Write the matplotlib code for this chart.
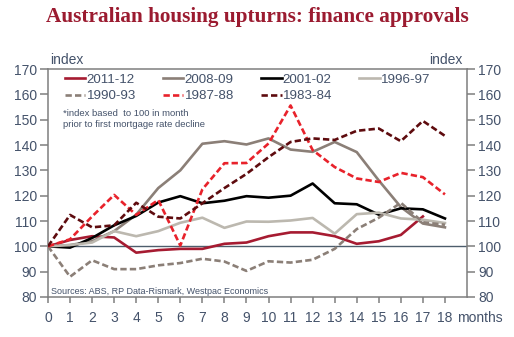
#!/usr/bin/env python3
"""Australian housing upturns: finance approvals (index chart)."""

import matplotlib

matplotlib.use("Agg")
import matplotlib.pyplot as plt

months = list(range(19))
month_labels = [str(m) for m in months]
y_ticks = [80, 90, 100, 110, 120, 130, 140, 150, 160, 170]

# index values, 100 = month prior to first mortgage rate decline
s_2011_12 = [100, 102.5, 104, 103.5, 97.5, 98.5, 99, 99, 101, 101.5, 104, 105.5, 105.5, 104, 101, 102, 104.5, 111.8]
s_2008_09 = [100, 100.5, 102, 106, 112.5, 123, 130, 140.5, 141.5, 140.2, 142.6, 138.2, 137.3, 141.2, 137.2, 126, 115.5, 109, 107.5]
s_2001_02 = [100, 99.5, 103.3, 108.3, 112, 117.3, 119.8, 117, 118, 119.8, 119.2, 120, 124.8, 117, 116.6, 112.5, 115, 114.6, 111]
s_1996_97 = [100, 100.5, 101.5, 106, 104, 106, 109.3, 111.3, 107.3, 109.8, 109.7, 110.2, 111.2, 105, 112.7, 113.3, 111, 110.5, 109.2]
s_1990_93 = [100, 88, 94.5, 91, 91, 92.5, 93.4, 95.1, 94, 90.3, 94.1, 93.6, 94.7, 99, 106.8, 111.3, 117.2, 109.5, 108.5]
s_1987_88 = [100, 102.8, 111.8, 120.3, 112.4, 118.3, 100.3, 122.5, 132.8, 132.9, 140.6, 155.6, 138, 131.3, 126.8, 125.4, 129, 127.3, 120.5]
s_1983_84 = [100, 112.4, 107.5, 108.3, 117.2, 111.7, 111, 117, 123, 128.6, 135.2, 141.2, 142.6, 142, 145.6, 146.5, 141.5, 149.5, 143.6]

series = [
    ("2011-12", s_2011_12, "#a61b31", "-"),
    ("2008-09", s_2008_09, "#8b7f77", "-"),
    ("2001-02", s_2001_02, "#000000", "-"),
    ("1996-97", s_1996_97, "#bcb8af", "-"),
    ("1990-93", s_1990_93, "#8b7f77", "--"),
    ("1987-88", s_1987_88, "#e8222b", "--"),
    ("1983-84", s_1983_84, "#5e0b0e", "--"),
]

TEXT_COL = "#44526a"
AXIS_COL = "#7f7f7f"
W, H = 514, 337

plt.rcParams["font.family"] = ["Liberation Sans", "DejaVu Sans"]

fig = plt.figure(figsize=(W / 100, H / 100), dpi=100)
ax = fig.add_axes([48 / W, 1 - 297 / H, (467 - 48) / W, (297 - 69) / H])

ax.axhline(100, color="#4d5d6c", lw=1.0, zorder=1)

handles = []
for name, vals, col, ls in series:
    x = months[: len(vals)]
    style = (0, (2.4, 1.2)) if ls == "--" else "-"
    (h,) = ax.plot(x, vals, color=col, lw=1.9, ls=style, label=name, zorder=3)
    handles.append(h)

ax.set_xlim(0, 19)
ax.set_ylim(80, 170)
ax.set_xticks(months)
ax.set_xticklabels(month_labels)
ax.set_yticks(y_ticks)

for sp in ax.spines.values():
    sp.set_color(AXIS_COL)
    sp.set_linewidth(1.1)

ax.tick_params(axis="y", which="both", direction="out", length=6, width=1.1, color=AXIS_COL,
               labelcolor=TEXT_COL, labelsize=10, pad=2, left=True, right=True,
               labelleft=True, labelright=True)
ax.tick_params(axis="x", direction="out", length=4, width=1.1, color=AXIS_COL,
               labelcolor=TEXT_COL, labelsize=10, pad=6)

# legend laid out row by row
order = [0, 4, 1, 5, 2, 6, 3]
leg = ax.legend([handles[i] for i in order], [series[i][0] for i in order],
                ncol=4, loc="upper left", bbox_to_anchor=(0.04, 0.98),
                frameon=False, fontsize=9.6, handlelength=1.55, handletextpad=0.1,
                columnspacing=2.0, labelspacing=0.32, borderpad=0, borderaxespad=0)
for t in leg.get_texts():
    t.set_color(TEXT_COL)

fig.text(63 / W, 1 - 109 / H, "*index based  to 100 in month\nprior to first mortgage rate decline",
         fontsize=6.8, color=TEXT_COL, va="top", ha="left", linespacing=1.25)

fig.text(51 / W, 1 - 291 / H, "Sources: ABS, RP Data-Rismark, Westpac Economics",
         fontsize=6.5, color=TEXT_COL, va="center", ha="left")

fig.text(50 / W, 1 - 60 / H, "index", fontsize=10, color=TEXT_COL, va="center", ha="left")
fig.text(463 / W, 1 - 60 / H, "index", fontsize=10, color=TEXT_COL, va="center", ha="right")
fig.text(457 / W, 1 - 318 / H, "months", fontsize=10, color=TEXT_COL, va="center", ha="left")

fig.text(0.5, 1 - 17 / H, "Australian housing upturns: finance approvals",
         family=["Liberation Serif", "DejaVu Serif"], fontweight="bold", fontsize=15.3,
         color="#9b1b30", ha="center", va="center")

fig.savefig("out.png", dpi=100)
plt.close(fig)
